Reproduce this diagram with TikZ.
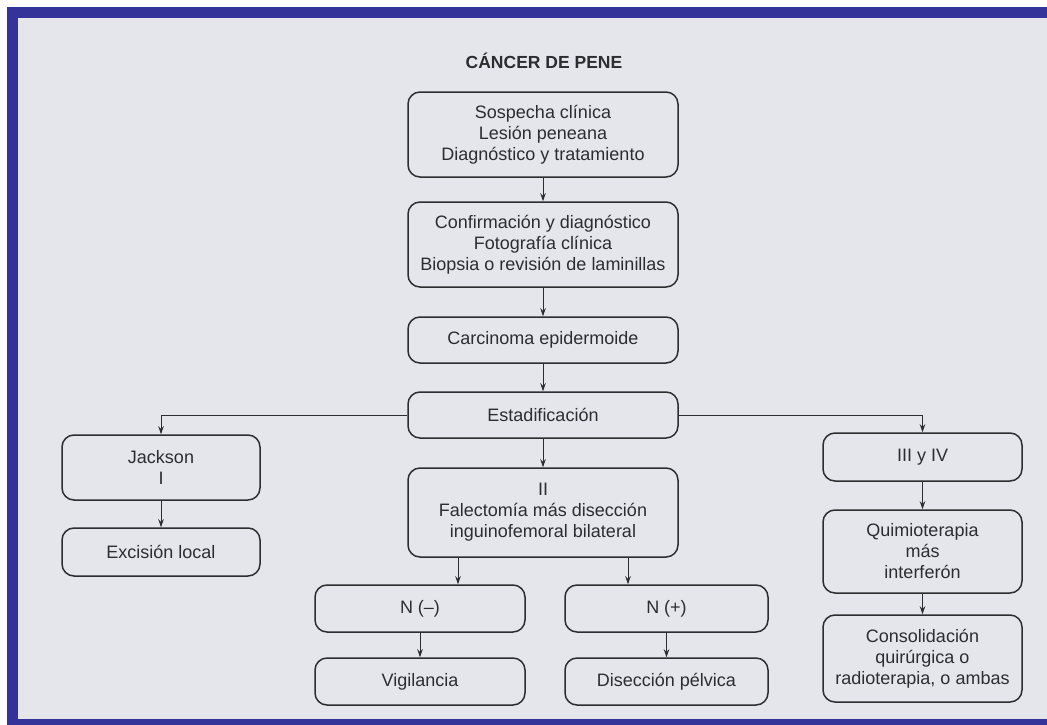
\documentclass[tikz,border=0pt]{standalone}
\usepackage{fontspec}
\setmainfont{Liberation Sans}
\usepackage{tikz}
\usetikzlibrary{arrows.meta}

\definecolor{paper}{RGB}{229,230,236}
\definecolor{frame}{RGB}{51,51,153}
\definecolor{ink}{RGB}{45,45,48}

\begin{document}
\begin{tikzpicture}[x=1pt,y=-1pt,
        >={Stealth[length=8pt,width=5.5pt]},
        font=\fontsize{18}{21}\selectfont, text=ink]
        % page and frame
        \fill[white] (0,0) rectangle (1047,725);
        \fill[frame] (7,7) rectangle (1047,725);
        \fill[paper] (18,18) rectangle (1047,719);
        \useasboundingbox (0,0) rectangle (1047,725);

        \node[font=\fontsize{17.5}{21}\selectfont\bfseries] (0) at (544,61) {CÁNCER DE PENE};

        \begin{scope}[every node/.style={draw=ink,line width=1.5pt,rounded corners=12pt,
                align=center,inner sep=0pt,minimum width=270pt}]
            \node[minimum height=85pt] (1) at (543,134.5) {Sospecha clínica\\Lesión peneana\\Diagnóstico y tratamiento};
            \node[minimum height=85pt] (2) at (543,244.5) {Confirmación y diagnóstico\\Fotografía clínica\\Biopsia o revisión de laminillas};
            \node[minimum height=46pt] (3) at (543,340) {Carcinoma epidermoide};
            \node[minimum height=46pt] (4) at (543,415) {Estadificación};
            \node[minimum height=89pt] (5) at (543,512.5) {II\\Falectomía más disección\\inguinofemoral bilateral};

            \node[minimum width=198pt,minimum height=65pt] (6) at (161,467.5) {Jackson\\I};
            \node[minimum width=198pt,minimum height=48pt] (7) at (161,552) {Excisión local};

            \node[minimum width=210pt,minimum height=47pt] (8) at (420,608.5) {N (–)};
            \node[minimum width=210pt,minimum height=47pt] (9) at (420,681.5) {Vigilancia};
            \node[minimum width=203pt,minimum height=47pt] (10) at (666.5,608.5) {N (+)};
            \node[minimum width=203pt,minimum height=47pt] (11) at (666.5,681.5) {Disección pélvica};

            \node[minimum width=199pt,minimum height=48pt] (12) at (922.5,457) {III y IV};
            \node[minimum width=199pt,minimum height=83pt] (13) at (922.5,551.5) {Quimioterapia\\más\\interferón};
            \node[minimum width=199pt,minimum height=87pt] (14) at (922.5,658.5) {Consolidación\\quirúrgica o\\radioterapia, o ambas};
        \end{scope}

        \begin{scope}[every edge/.style={draw=ink,line width=1pt}]
            \path [->] (1) edge (2);
            \path [->] (2) edge (3);
            \path [->] (3) edge (4);
            \path [->] (4) edge (5);

            \path [->] (4.west) edge[to path={-| (\tikztotarget)}] (6.north);
            \path [->] (6) edge (7);

            \path [->] (4.east) edge[to path={-| (\tikztotarget)}] (12.north);
            \path [->] (12) edge (13);
            \path [->] (13) edge (14);

            \path [->] ([xshift=-85pt]5.south) edge ([xshift=-85pt]5.south |- 8.north);
            \path [->] ([xshift=85pt]5.south) edge ([xshift=85pt]5.south |- 10.north);
            \path [->] (8) edge (9);
            \path [->] (10) edge (11);
        \end{scope}
    \end{tikzpicture}
\end{document}
